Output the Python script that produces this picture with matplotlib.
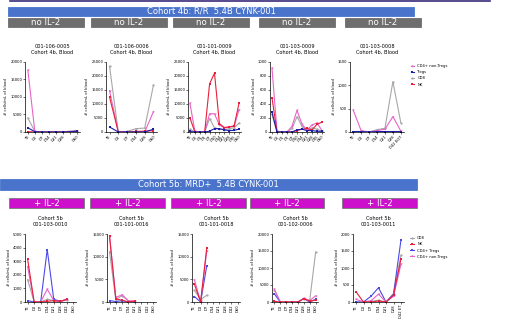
import numpy as np
import matplotlib.pyplot as plt
from matplotlib.patches import Rectangle

W, H = 520, 336
nan = np.nan

# colours of the four cell populations
C_CD4 = '#e864c8'
C_TREG = '#1c1ca8'
C_TREG2 = '#4a4ae8'
C_CD8 = '#a8a8a8'
C_NK = '#e8203c'

# ---- Cohort 4b (no IL-2) ----
p1_title = '001-106-0005\nCohort 4b, Blood'
p1_days = ['TE', 'D0', 'D7', 'D14', 'D21', 'D28', '', 'D60']
p1_cd4 = [17700, 100, 0, 0, 50, 50, nan, 300]
p1_treg = [1200, 100, 0, 0, 0, 0, nan, 200]
p1_cd8 = [4000, 200, 0, 0, 50, 50, nan, 400]
p1_nk = [100, 0, 0, 0, 0, 0, nan, 200]
p1_ylim = [0, 20000, 5000]

p2_title = '001-106-0006\nCohort 4b, Blood'
p2_days = ['TE', 'D0', 'D7', 'D14', 'D28', 'D60']
p2_cd4 = [14800, 0, 0, 100, 0, 7300]
p2_treg = [1800, 0, 0, 0, 0, 1000]
p2_cd8 = [23500, 0, 200, 1200, 1400, 16800]
p2_nk = [12500, 0, 0, 200, 300, 500]
p2_ylim = [0, 25000, 5000]

p3_title = '001-101-0009\nCohort 4b, Blood'
p3_days = ['TE', 'D0', 'D1', 'D3', 'D7', 'D10', 'D14', 'D21', 'D28', 'D35', 'D60']
p3_cd4 = [10200, 200, 0, 0, 6500, 6500, 2500, 1500, 1800, 2000, 8000]
p3_treg = [200, 0, 0, 0, 300, 1200, 1200, 800, 500, 600, 1000]
p3_cd8 = [1000, 0, 0, 0, 4800, 1500, 1000, 800, 1200, 1500, 3200]
p3_nk = [5000, 0, 0, 0, 17200, 21000, 3000, 1600, 1800, 2200, 10300]
p3_ylim = [0, 25000, 5000]

p4_title = '001-103-0009\nCohort 4b, Blood'
p4_days = ['TE', 'D0', 'D1', 'D3', 'D7', 'D10', 'D14', 'D21', 'D28', 'D35', 'D60']
p4_cd4 = [910, 10, 0, 0, 80, 310, 110, 30, 100, 130, 20]
p4_treg = [280, 0, 0, 0, 0, 30, 40, 20, 20, 10, 10]
p4_cd8 = [250, 0, 0, 0, 50, 220, 80, 30, 60, 40, 10]
p4_nk = [490, 0, 0, 0, 0, 20, 40, 50, 30, 110, 140]
p4_ylim = [0, 1000, 200]

p5_title = '001-103-0008\nCohort 4b, Blood'
p5_days = ['TE', 'D0', 'D7', 'D14', 'D21', 'D28', 'D42 EOT']
p5_cd4 = [470, 30, 0, 30, 60, 330, 20]
p5_treg = [10, 10, 0, 10, 10, 10, 10]
p5_cd8 = [0, 10, 0, 50, 80, 1080, 200]
p5_nk = [0, 0, 0, 0, 0, 0, 0]
p5_ylim = [0, 1500, 500]

# ---- Cohort 5b (+ IL-2) ----
p6_title = 'Cohort 5b\n001-103-0010'
p6_days = ['TE', 'D0', 'D7', 'D14', 'D21', 'D28', 'D42', 'D60']
p6_cd4 = [2600, 0, 0, 950, 100, 50, 150, nan]
p6_treg = [100, 0, 0, 3850, 200, 50, 200, nan]
p6_cd8 = [1650, 0, 0, 200, 100, 50, 150, nan]
p6_nk = [3150, 0, 0, 50, 100, 50, 200, nan]
p6_ylim = [0, 5000, 1000]

p7_title = 'Cohort 5b\n001-101-0016'
p7_days = ['TE', 'D0', 'D7', 'D14', 'D21', 'D28', 'D42', 'D60']
p7_cd4 = [14600, 1000, 1600, 300, 200, nan, nan, nan]
p7_treg = [300, 100, 300, 0, 0, nan, nan, nan]
p7_cd8 = [11100, 500, 1400, 200, 100, nan, nan, nan]
p7_nk = [14600, 700, 400, 0, 200, nan, nan, nan]
p7_ylim = [0, 15000, 5000]

p8_title = 'Cohort 5b\n001-101-0018'
p8_days = ['TE', 'D0', 'D7', 'D14', 'D21', 'D28', 'D42', 'D60']
p8_cd4 = [4900, 0, 11300, nan, nan, nan, nan, nan]
p8_treg = [1200, 0, 8000, nan, nan, nan, nan, nan]
p8_cd8 = [2600, 500, 1500, nan, nan, nan, nan, nan]
p8_nk = [3900, 0, 12000, nan, nan, nan, nan, nan]
p8_ylim = [0, 15000, 5000]

p9_title = 'Cohort 5b\n001-102-0006'
p9_days = ['TE', 'D0', 'D7', 'D14', 'D21', 'D28', 'D42', 'D60']
p9_cd4 = [3800, 0, 0, 0, 0, 1100, 400, 1800]
p9_treg = [2400, 0, 0, 0, 0, 1000, 0, 800]
p9_cd8 = [3500, 0, 0, 0, 0, 1000, 500, 14700]
p9_nk = [200, 0, 0, 0, 0, 1000, 200, 600]
p9_ylim = [0, 20000, 5000]

p10_title = 'Cohort 5b\n001-103-0011'
p10_days = ['TE', 'D0', 'D7', 'D14', 'D21', 'D28', 'D42 ET']
p10_cd4 = [80, 0, 40, 230, 0, 170, 1120]
p10_treg = [0, 0, 170, 420, 0, 230, 1830]
p10_cd8 = [0, 0, 20, 50, 0, 250, 1380]
p10_nk = [300, 0, 0, 30, 0, 200, 1270]
p10_ylim = [0, 2000, 500]

top_labels = ['CD4+ non-Tregs', 'Tregs', 'CD8', 'NK']
bot_labels = ['CD8', 'NK', 'CD4+ Tregs', 'CD4+ non-Tregs']

FS_TICK = 2.7
FS_TITLE = 3.6


def px_axes(fig, x0, y0, x1, y1):
    # axes from pixel box (top-left origin)
    return fig.add_axes([x0 / W, 1 - y1 / H, (x1 - x0) / W, (y1 - y0) / H])


def banner(fig, x0, y0, x1, y1, color, text, size, edge=None):
    fig.patches.append(Rectangle((x0 / W, 1 - y1 / H), (x1 - x0) / W, (y1 - y0) / H,
                                 transform=fig.transFigure, facecolor=color,
                                 edgecolor=edge or color, lw=0.6))
    fig.text((x0 + x1) / 2 / W, 1 - (y0 + y1) / 2 / H, text, color='white',
             fontsize=size, ha='center', va='center')


def panel(ax, title, days, series, ylim, rot):
    x = np.arange(len(days))
    for vals, col, mk in series:
        v = np.array(vals, dtype=float)
        ok = ~np.isnan(v)
        ax.plot(x[ok], v[ok], color=col, lw=0.8, marker=mk, ms=1.6, mew=0)
    ax.set_ylim(ylim[0], ylim[1])
    ax.set_yticks(np.arange(ylim[0], ylim[1] + 1, ylim[2]))
    ax.set_xlim(-0.4, len(days) - 0.6)
    ax.set_xticks(x)
    if rot == 45:
        ax.set_xticklabels(days, rotation=45, ha='right', rotation_mode='anchor')
    else:
        ax.set_xticklabels(days, rotation=90)
    ax.tick_params(labelsize=FS_TICK, length=1.2, width=0.4, pad=0.8)
    for s in ['top', 'right']:
        ax.spines[s].set_visible(False)
    for s in ['left', 'bottom']:
        ax.spines[s].set_linewidth(0.5)
    ax.set_ylabel('# cells/mL of blood', fontsize=FS_TICK, labelpad=1.5)
    ax.set_title(title, fontsize=FS_TITLE, pad=6)
    ax.patch.set_alpha(0)


def add_legend(ax, items, labels):
    handles = [plt.Line2D([], [], color=c, lw=0.8, marker=m, ms=1.6, mew=0) for _, c, m in items]
    ax.legend(handles, labels, loc='upper left', bbox_to_anchor=(1.06, 1.02),
              fontsize=FS_TICK, frameon=False, handlelength=1.0, labelspacing=0.6)


fig = plt.figure(figsize=(W / 100, H / 100), dpi=100)

# top thin line and banners
fig.add_artist(plt.Line2D([10 / W, 490 / W], [1 - 0.8 / H, 1 - 0.8 / H],
                          color='#3a2a7a', lw=1.2, transform=fig.transFigure))
banner(fig, 8, 7, 414, 16, '#4a74cc', 'Cohort 4b: R/R  5.4B CYNK-001', 6)
for bx in [(8, 84), (91, 167), (173, 249), (259, 335), (345, 421)]:
    banner(fig, bx[0], 18, bx[1], 27, '#6e6e6e', 'no IL-2', 6.2)

banner(fig, 0, 179, 417, 190, '#4a74cc', 'Cohort 5b: MRD+  5.4B CYNK-001', 6)
for bx in [(9, 84), (90, 165), (171, 246), (250, 324), (342, 417)]:
    banner(fig, bx[0], 198, bx[1], 208, '#cc10cc', '+ IL-2', 6.2, edge='#7a7a7a')

top = [
    (p1_title, p1_days, p1_cd4, p1_treg, p1_cd8, p1_nk, p1_ylim, (25, 80)),
    (p2_title, p2_days, p2_cd4, p2_treg, p2_cd8, p2_nk, p2_ylim, (106, 157)),
    (p3_title, p3_days, p3_cd4, p3_treg, p3_cd8, p3_nk, p3_ylim, (188, 241)),
    (p4_title, p4_days, p4_cd4, p4_treg, p4_cd8, p4_nk, p4_ylim, (270, 324)),
    (p5_title, p5_days, p5_cd4, p5_treg, p5_cd8, p5_nk, p5_ylim, (350, 404)),
]
for i, (t, d, cd4, treg, cd8, nk, yl, xr) in enumerate(top):
    ax = px_axes(fig, xr[0], 62, xr[1], 132)
    series = [(cd8, C_CD8, 'o'), (cd4, C_CD4, 'v'), (nk, C_NK, 's'), (treg, C_TREG, 's')]
    panel(ax, t, d, series, yl, 45)
    if i == 4:
        add_legend(ax, [(cd4, C_CD4, 'v'), (treg, C_TREG, 's'), (cd8, C_CD8, 'o'), (nk, C_NK, 's')],
                   top_labels)

bottom = [
    (p6_title, p6_days, p6_cd4, p6_treg, p6_cd8, p6_nk, p6_ylim, (25, 76)),
    (p7_title, p7_days, p7_cd4, p7_treg, p7_cd8, p7_nk, p7_ylim, (107, 156)),
    (p8_title, p8_days, p8_cd4, p8_treg, p8_cd8, p8_nk, p8_ylim, (192, 240)),
    (p9_title, p9_days, p9_cd4, p9_treg, p9_cd8, p9_nk, p9_ylim, (272, 318)),
    (p10_title, p10_days, p10_cd4, p10_treg, p10_cd8, p10_nk, p10_ylim, (353, 404)),
]
for i, (t, d, cd4, treg, cd8, nk, yl, xr) in enumerate(bottom):
    ax = px_axes(fig, xr[0], 234, xr[1], 302)
    series = [(cd8, C_CD8, 'o'), (treg, C_TREG2, 's'), (cd4, C_CD4, 'v'), (nk, C_NK, 's')]
    panel(ax, t, d, series, yl, 90)
    if i == 4:
        add_legend(ax, [(cd8, C_CD8, 'o'), (nk, C_NK, 's'), (treg, C_TREG2, 's'), (cd4, C_CD4, 'v')],
                   bot_labels)

fig.savefig('out.png', dpi=100)
